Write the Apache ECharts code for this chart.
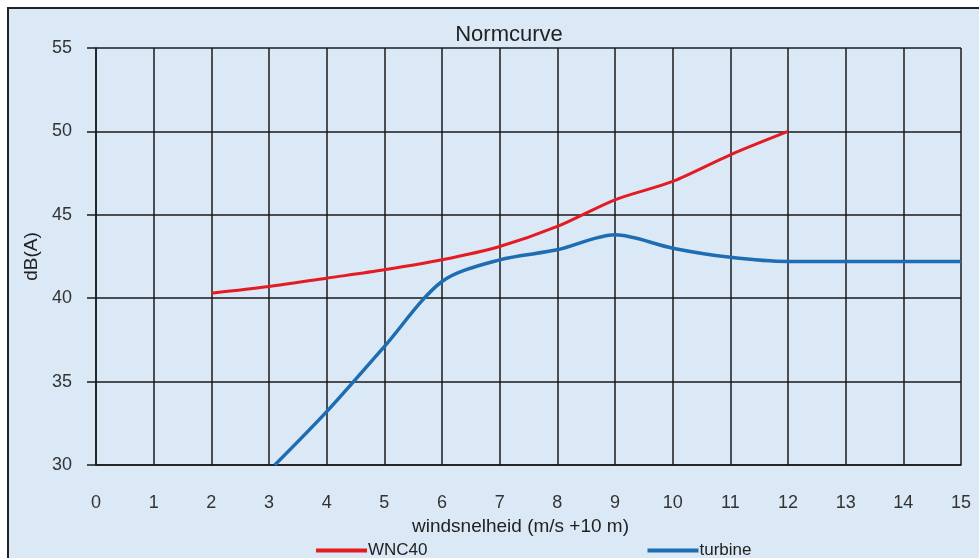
<!DOCTYPE html>
<html>
<head>
<meta charset="utf-8">
<script src="https://cdn.jsdelivr.net/npm/echarts@6/dist/echarts.min.js"></script>
<style>
	body { margin: 0; background: #fff; }
	#bg { position: absolute; left: 7px; top: 7px; width: 972px; height: 551px; background: #dbe8f5; border-left: 2px solid #222; border-top: 2px solid #222; box-sizing: border-box; }
	#chart { position: absolute; left: 0; top: 0; width: 979px; height: 558px; }
</style>
</head>
<body>
<div id="bg"></div>
<div id="chart"></div>
<script>
// windsnelheid (m/s) tegen dB(A)
var wncX = [2, 3, 4, 5, 6, 7, 8, 9, 10, 11, 12];
var wncY = [40.3, 40.7, 41.2, 41.7, 42.3, 43.1, 44.3, 45.9, 47.0, 48.6, 50.0];
var turbineX = [3.1, 4, 5, 6, 7, 8, 9, 10, 11, 12, 13, 14, 15];
var turbineY = [30.0, 33.2, 37.1, 41.0, 42.3, 42.9, 43.8, 43.0, 42.45, 42.2, 42.2, 42.2, 42.2];

var pairs = function(xs, ys) {
	var out = [];
	for (var i = 0; i < xs.length; i++) {
		out.push([xs[i], ys[i]]);
	}
	return out;
};

var font = 'Liberation Sans, Arial, sans-serif';
var myChart = echarts.init(document.getElementById('chart'));
var option = {
	backgroundColor: 'transparent',
	animation: false,
	title: {
		text: 'Normcurve',
		left: 504,
		top: 19,
		textAlign: 'center',
		textStyle: { fontFamily: font, fontSize: 22, fontWeight: 'normal', color: '#222' }
	},
	legend: {
		left: 311,
		top: 537,
		itemGap: 220,
		itemWidth: 51,
		itemHeight: 4,
		itemStyle: { borderWidth: 0 },
		textStyle: { fontFamily: font, fontSize: 17, color: '#222', padding: [0, 0, 0, -4] },
		data: [
			{ name: 'WNC40', icon: 'rect' },
			{ name: 'turbine', icon: 'rect' }
		]
	},
	grid: { left: 96, right: 18, top: 48, bottom: 93 },
	xAxis: {
		type: 'value',
		min: 0,
		max: 15,
		interval: 1,
		name: 'windsnelheid (m/s +10 m)',
		nameLocation: 'middle',
		nameGap: 49,
		nameTextStyle: { fontFamily: font, fontSize: 19, color: '#222', padding: [0, 16, 0, 0] },
		axisLine: { show: true, lineStyle: { color: '#1a1a1a', width: 1.5 } },
		axisTick: { show: false },
		axisLabel: { margin: 29, fontFamily: font, fontSize: 18, color: '#333' },
		splitLine: { show: true, lineStyle: { color: '#1a1a1a', width: 1.5 } }
	},
	yAxis: {
		type: 'value',
		min: 30,
		max: 55,
		interval: 5,
		name: 'dB(A)',
		nameLocation: 'middle',
		nameGap: 53,
		nameTextStyle: { fontFamily: font, fontSize: 19, color: '#222' },
		axisLine: { show: true, lineStyle: { color: '#1a1a1a', width: 1.5 } },
		axisTick: { show: true, length: 9, lineStyle: { color: '#1a1a1a', width: 1.5 } },
		axisLabel: { margin: 24, fontFamily: font, fontSize: 18, color: '#333' },
		splitLine: { show: true, lineStyle: { color: '#1a1a1a', width: 1.5 } }
	},
	series: [{
		name: 'WNC40',
		type: 'line',
		smooth: 0.3,
		symbol: 'none',
		color: '#e31b23',
		lineStyle: { width: 3, color: '#e31b23' },
		data: pairs(wncX, wncY)
	}, {
		name: 'turbine',
		type: 'line',
		smooth: 0.3,
		symbol: 'none',
		color: '#1e6db3',
		lineStyle: { width: 3.5, color: '#1e6db3' },
		data: pairs(turbineX, turbineY)
	}]
};
myChart.setOption(option);
</script>
</body>
</html>
